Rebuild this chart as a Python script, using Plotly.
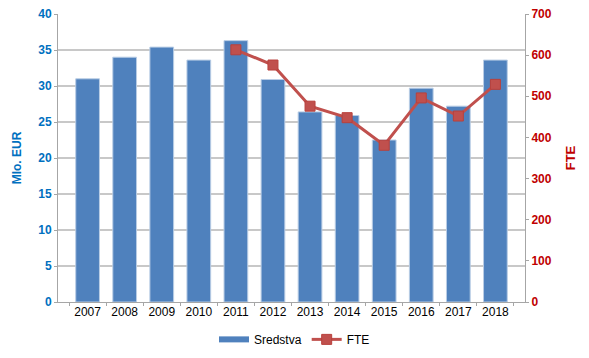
import plotly.graph_objects as go

years = ["2007", "2008", "2009", "2010", "2011", "2012", "2013", "2014", "2015", "2016", "2017", "2018"]
sredstva = [31.0, 34.0, 35.4, 33.6, 36.3, 30.9, 26.4, 25.9, 22.5, 29.7, 27.2, 33.6]
fte = [None, None, None, None, 613, 576, 476, 448, 381, 496, 452, 529]

BLUE = "#4F81BD"
RED = "#C0504D"

fig = go.Figure()
fig.add_trace(go.Bar(x=years, y=sredstva, name="Sredstva", showlegend=False,
                     marker=dict(color=BLUE, line=dict(color="#B9CDE5", width=1)),
                     yaxis="y"))
# legend entry for bars drawn as wide rectangle
fig.add_trace(go.Scatter(x=[None], y=[None], name="Sredstva", mode="lines",
                         line=dict(color=BLUE, width=6), yaxis="y"))
fig.add_trace(go.Scatter(x=years, y=fte, name="FTE", mode="lines+markers",
                         line=dict(color=RED, width=3),
                         marker=dict(symbol="square", size=10, color=RED,
                                     line=dict(color="#B8403C", width=1)),
                         yaxis="y2"))

fig.update_layout(
    width=589, height=358,
    margin=dict(l=58, r=64, t=14, b=56),
    paper_bgcolor="white", plot_bgcolor="white",
    font=dict(family="Liberation Sans, Arial", size=12, color="black"),
    bargap=0.36,
    showlegend=True,
    legend=dict(orientation="h", x=0.5, xanchor="center", xref="container",
                y=0.052, yanchor="middle", yref="container",
                font=dict(size=12), itemwidth=30, tracegroupgap=0),
    xaxis=dict(showline=True, linecolor="#A6A6A6", ticks="outside", tickcolor="#A6A6A6",
               ticklen=3, tickson="boundaries", showgrid=False,
               tickfont=dict(size=12, color="black"),
               ticklabelstandoff=-1, automargin=False),
    yaxis=dict(range=[0, 40], dtick=5, showline=True, linecolor="#A6A6A6",
               ticks="outside", tickcolor="#A6A6A6", ticklen=3,
               gridcolor="#C8C8C8", gridwidth=1.5,
               tickfont=dict(size=12, color="#0070C0"),
               title=dict(text="<b>Mlo. EUR</b>", font=dict(size=12, color="#0070C0"), standoff=14),
               zeroline=False, automargin=False),
    yaxis2=dict(range=[0, 700], dtick=100, overlaying="y", side="right",
                showline=True, linecolor="#A6A6A6", ticks="outside", tickcolor="#A6A6A6",
                ticklen=3, showgrid=False,
                tickfont=dict(size=12, color="#C00000"),
                title=dict(text="<b>FTE</b>", font=dict(size=13, color="#C00000"), standoff=15),
                zeroline=False, automargin=False),
)
fig.update_yaxes(tickprefix="<b>", ticksuffix="</b>")

fig.write_html("out.html", config={"displayModeBar": False},
               post_script="document.body.style.margin='0';")
